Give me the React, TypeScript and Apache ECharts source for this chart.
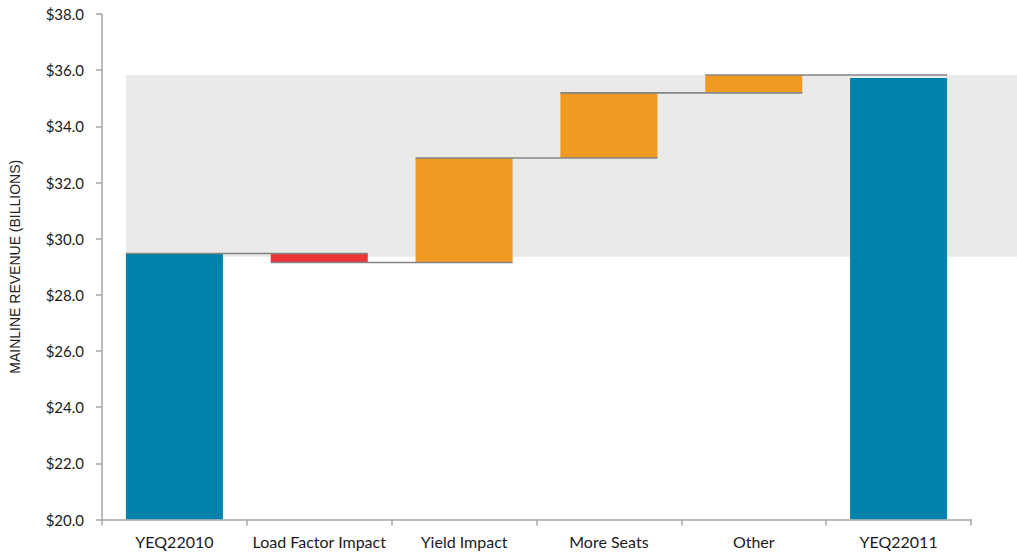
import React, { useEffect, useRef } from "react";
import * as echarts from "echarts";

// Revenue bridge: year-end 2010 to year-end 2011, in $ billions
const categories = [
  "YEQ22010",
  "Load Factor Impact",
  "Yield Impact",
  "More Seats",
  "Other",
  "YEQ22011",
];
const startValue = 29.47;
const changes = [-0.32, 3.72, 2.32, 0.64];
const endValue = 35.72;
const bandRange = [29.36, 35.83];
const bandLabel = "$6.3B";
const yTicks = [20, 22, 24, 26, 28, 30, 32, 34, 36, 38];

const TEAL = "#0083AA";
const RED = "#EC3636";
const ORANGE = "#F09A21";
const BAND = "#EAEAE9";
const CONNECTOR = "#858585";

type Step = { low: number; high: number; color: string; level: number };

function buildSteps(): Step[] {
  const steps: Step[] = [];
  steps.push({ low: 0, high: startValue, color: TEAL, level: startValue });
  let running = startValue;
  changes.forEach((c) => {
    const next = running + c;
    steps.push({
      low: Math.min(running, next),
      high: Math.max(running, next),
      color: c < 0 ? RED : ORANGE,
      level: next,
    });
    running = next;
  });
  steps.push({ low: 0, high: endValue, color: TEAL, level: endValue });
  return steps;
}

export default function App() {
  const ref = useRef<HTMLDivElement>(null);

  useEffect(() => {
    if (!ref.current) return;
    document.body.style.margin = "0";
    const chart = echarts.init(ref.current, undefined, { renderer: "svg" });
    const steps = buildSteps();
    const barRatio = 0.67;

    const option: echarts.EChartsOption = {
      animation: false,
      backgroundColor: "#ffffff",
      grid: { left: 101, right: 46, top: 14, bottom: 34.5, containLabel: false },
      xAxis: {
        type: "category",
        data: categories,
        axisLine: { lineStyle: { color: "#a6a6a6", width: 1.5 } },
        axisTick: { show: true, length: 6, lineStyle: { color: "#a6a6a6", width: 1.5 } },
        axisLabel: {
          interval: 0,
          color: "#1a1a1a",
          fontFamily: "Lato",
          fontSize: 16,
          margin: 14,
        },
      },
      yAxis: {
        type: "value",
        min: yTicks[0],
        max: yTicks[yTicks.length - 1],
        interval: 2,
        name: "MAINLINE REVENUE (BILLIONS)",
        nameLocation: "middle",
        nameGap: 80,
        nameTextStyle: {
          color: "#222",
          fontFamily: "Liberation Sans",
          fontSize: 14,
        },
        axisLine: { show: true, lineStyle: { color: "#a6a6a6", width: 1.5 } },
        axisTick: { show: true, length: 6, lineStyle: { color: "#a6a6a6", width: 1.5 } },
        splitLine: { show: false },
        axisLabel: {
          color: "#1a1a1a",
          fontFamily: "Lato",
          fontSize: 15,
          margin: 18,
          formatter: (v: number) => "$" + v.toFixed(1),
        },
      },
      series: [
        {
          // shaded band behind the bars
          type: "custom",
          z: 1,
          data: [[0, bandRange[0], bandRange[1]]],
          renderItem: (params: any, api: any) => {
            const w = api.size([1, 0])[0] * barRatio;
            const left = api.coord([api.value(0), 0])[0] - w / 2;
            const top = api.coord([0, api.value(2)])[1];
            const bottom = api.coord([0, api.value(1)])[1];
            return {
              type: "rect",
              shape: { x: left, y: top, width: api.getWidth() - left, height: bottom - top },
              style: { fill: BAND },
            };
          },
        },
        {
          // waterfall bars
          type: "custom",
          z: 2,
          clip: true,
          data: steps.map((s, i) => [i, s.low, s.high]),
          renderItem: (params: any, api: any) => {
            const i = api.value(0);
            const w = api.size([1, 0])[0] * barRatio;
            const cx = api.coord([i, 0])[0];
            const yTop = api.coord([i, api.value(2)])[1];
            const yBot = api.coord([i, Math.max(api.value(1), yTicks[0])])[1];
            return {
              type: "rect",
              shape: { x: cx - w / 2, y: yTop, width: w, height: yBot - yTop },
              style: { fill: steps[i].color },
            };
          },
        },
        {
          // connector lines between consecutive bars
          type: "custom",
          z: 3,
          data: steps.slice(0, -1).map((s, i) => [i, s.level]),
          renderItem: (params: any, api: any) => {
            const i = api.value(0);
            const w = api.size([1, 0])[0] * barRatio;
            const x1 = api.coord([i, 0])[0] - w / 2;
            const x2 = api.coord([i + 1, 0])[0] + w / 2;
            const y = api.coord([i, api.value(1)])[1];
            return {
              type: "line",
              shape: { x1, y1: y, x2, y2: y },
              style: { stroke: CONNECTOR, lineWidth: 1.6 },
            };
          },
        },
      ],
      graphic: [
        {
          type: "text",
          left: 973,
          top: 110,
          style: {
            text: bandLabel,
            fill: "#111",
            font: "16px 'DejaVu Sans'",
          },
        },
      ],
    };

    chart.setOption(option);
    return () => chart.dispose();
  }, []);

  return (
    <div
      ref={ref}
      style={{ position: "absolute", left: 0, top: 0, width: 1017, height: 554 }}
    />
  );
}
